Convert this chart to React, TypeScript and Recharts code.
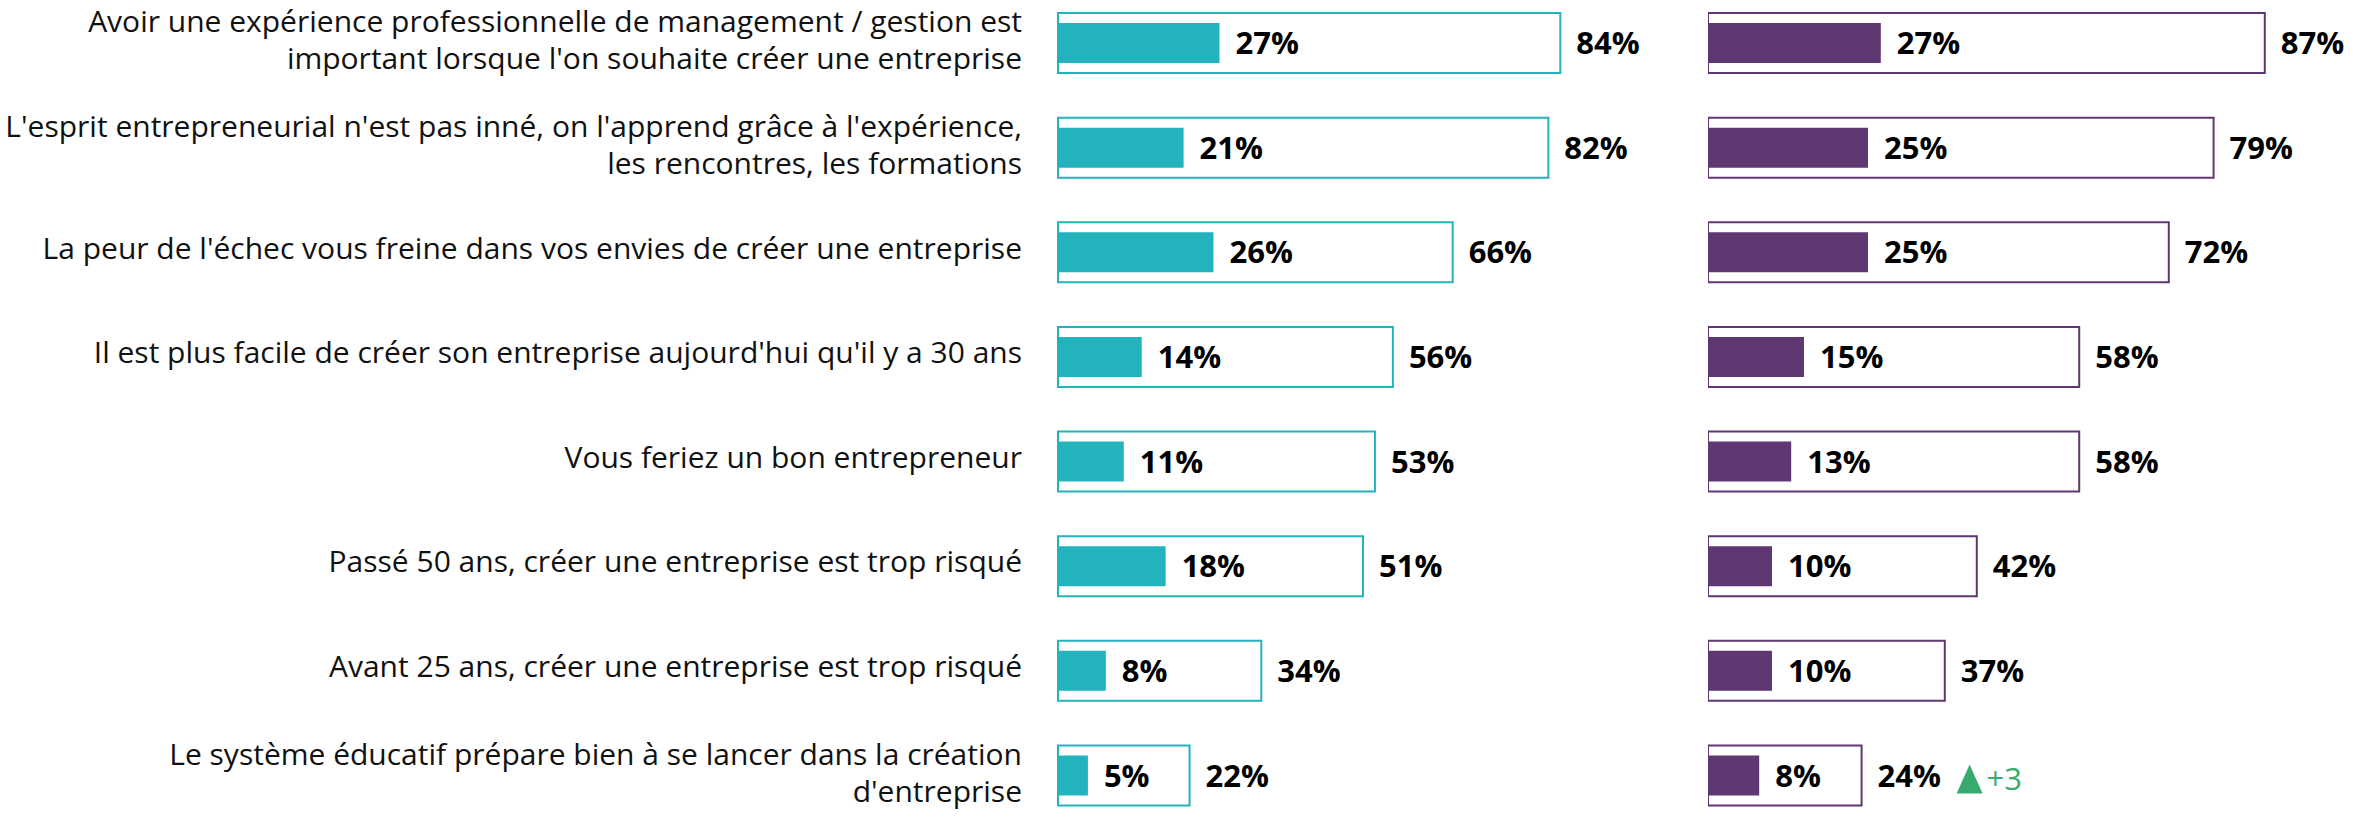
import { Bar, BarChart, LabelList, XAxis, YAxis } from "recharts";

const categories = [
  "Avoir une expérience professionnelle de management / gestion est\nimportant lorsque l'on souhaite créer une entreprise",
  "L'esprit entrepreneurial n'est pas inné, on l'apprend grâce à l'expérience,\nles rencontres, les formations",
  "La peur de l'échec vous freine dans vos envies de créer une entreprise",
  "Il est plus facile de créer son entreprise aujourd'hui qu'il y a 30 ans",
  "Vous feriez un bon entrepreneur",
  "Passé 50 ans, créer une entreprise est trop risqué",
  "Avant 25 ans, créer une entreprise est trop risqué",
  "Le système éducatif prépare bien à se lancer dans la création\nd'entreprise",
];

const leftTotal = [84, 82, 66, 56, 53, 51, 34, 22];
const leftStrong = [27, 21, 26, 14, 11, 18, 8, 5];
const rightTotal = [87, 79, 72, 58, 58, 42, 37, 24];
const rightStrong = [27, 25, 25, 15, 13, 10, 10, 8];
const rightDelta: (number | null)[] = [null, null, null, null, null, null, null, 3];

const TEAL = "#22b3bc";
const PURPLE = "#5f3772";
const GREEN = "#37ab6f";
const FONT = "'Open Sans', 'Noto Sans', sans-serif";

const leftData = categories.map((name, i) => ({
  name,
  total: leftTotal[i],
  strong: leftStrong[i],
  delta: null as number | null,
}));
const rightData = categories.map((name, i) => ({
  name,
  total: rightTotal[i],
  strong: rightStrong[i],
  delta: rightDelta[i],
}));

// chart geometry (px)
const TOP = -9;
const HEIGHT = 837;
const LEFT_AXIS_W = 1058;
const LEFT_PLOT_W = 598;
const RIGHT_X = 1708;
const RIGHT_PLOT_W = 640;
const LABEL_RIGHT = 1022; // right edge of the category texts

function CategoryTick(props: any) {
  const { y, payload } = props;
  const lines = String(payload.value).split("\n");
  const offsets = lines.length > 1 ? [-11, 26] : [6];
  return (
    <g>
      {lines.map((line, i) => (
        <text
          key={i}
          x={LABEL_RIGHT}
          y={y + offsets[i]}
          textAnchor="end"
          fontFamily={FONT}
          fontSize={30}
          fill="#111"
        >
          {line}
        </text>
      ))}
    </g>
  );
}

function PctLabel(props: any) {
  const { x, y, width, height, value } = props;
  if (value == null) return null;
  return (
    <text
      x={x + width + 16}
      y={y + height / 2}
      dy="0.36em"
      fontFamily={FONT}
      fontSize={31}
      fontWeight={700}
      fill="#000"
    >
      {`${value}%`}
    </text>
  );
}

function DeltaLabel(props: any) {
  const { x, y, width, height, value } = props;
  if (value == null) return null;
  const tx = x + width + 16 + 63 + 16;
  const cy = y + height / 2 + 3;
  return (
    <g>
      <polygon
        points={`${tx},${cy + 15} ${tx + 26},${cy + 15} ${tx + 13},${cy - 14}`}
        fill={GREEN}
      />
      <text
        x={tx + 30}
        y={cy}
        dy="0.36em"
        fontFamily={FONT}
        fontSize={31}
        fill={GREEN}
      >
        {`+${value}`}
      </text>
    </g>
  );
}

function Panel({
  data,
  color,
  width,
  axisWidth,
  marginRight,
  showCategories,
}: {
  data: typeof leftData;
  color: string;
  width: number;
  axisWidth: number;
  marginRight: number;
  showCategories: boolean;
}) {
  return (
    <BarChart
      width={width}
      height={HEIGHT}
      data={data}
      layout="vertical"
      margin={{ top: 0, right: marginRight, bottom: 0, left: 0 }}
      barCategoryGap={0}
    >
      <XAxis type="number" domain={[0, 100]} hide />
      <YAxis
        yAxisId="outer"
        type="category"
        dataKey="name"
        width={axisWidth}
        hide={!showCategories}
        axisLine={false}
        tickLine={false}
        tickSize={0}
        tickMargin={36}
        interval={0}
        tick={<CategoryTick />}
      />
      <YAxis yAxisId="inner" type="category" dataKey="name" hide />
      <Bar
        yAxisId="outer"
        dataKey="total"
        barSize={60}
        fill="#ffffff"
        stroke={color}
        strokeWidth={2}
        isAnimationActive={false}
      >
        <LabelList dataKey="total" content={<PctLabel />} />
        <LabelList dataKey="delta" content={<DeltaLabel />} />
      </Bar>
      <Bar
        yAxisId="inner"
        dataKey="strong"
        barSize={40}
        fill={color}
        isAnimationActive={false}
      >
        <LabelList dataKey="strong" content={<PctLabel />} />
      </Bar>
    </BarChart>
  );
}

export default function App() {
  return (
    <div
      style={{
        position: "fixed",
        left: 0,
        top: 0,
        width: 2369,
        height: 817,
        overflow: "hidden",
        background: "#ffffff",
      }}
    >
      <div style={{ position: "absolute", left: 0, top: TOP }}>
        <Panel
          data={leftData}
          color={TEAL}
          width={LEFT_AXIS_W + LEFT_PLOT_W + 120}
          axisWidth={LEFT_AXIS_W}
          marginRight={120}
          showCategories
        />
      </div>
      <div style={{ position: "absolute", left: RIGHT_X, top: TOP }}>
        <Panel
          data={rightData}
          color={PURPLE}
          width={RIGHT_PLOT_W + 21}
          axisWidth={0}
          marginRight={21}
          showCategories={false}
        />
      </div>
    </div>
  );
}
